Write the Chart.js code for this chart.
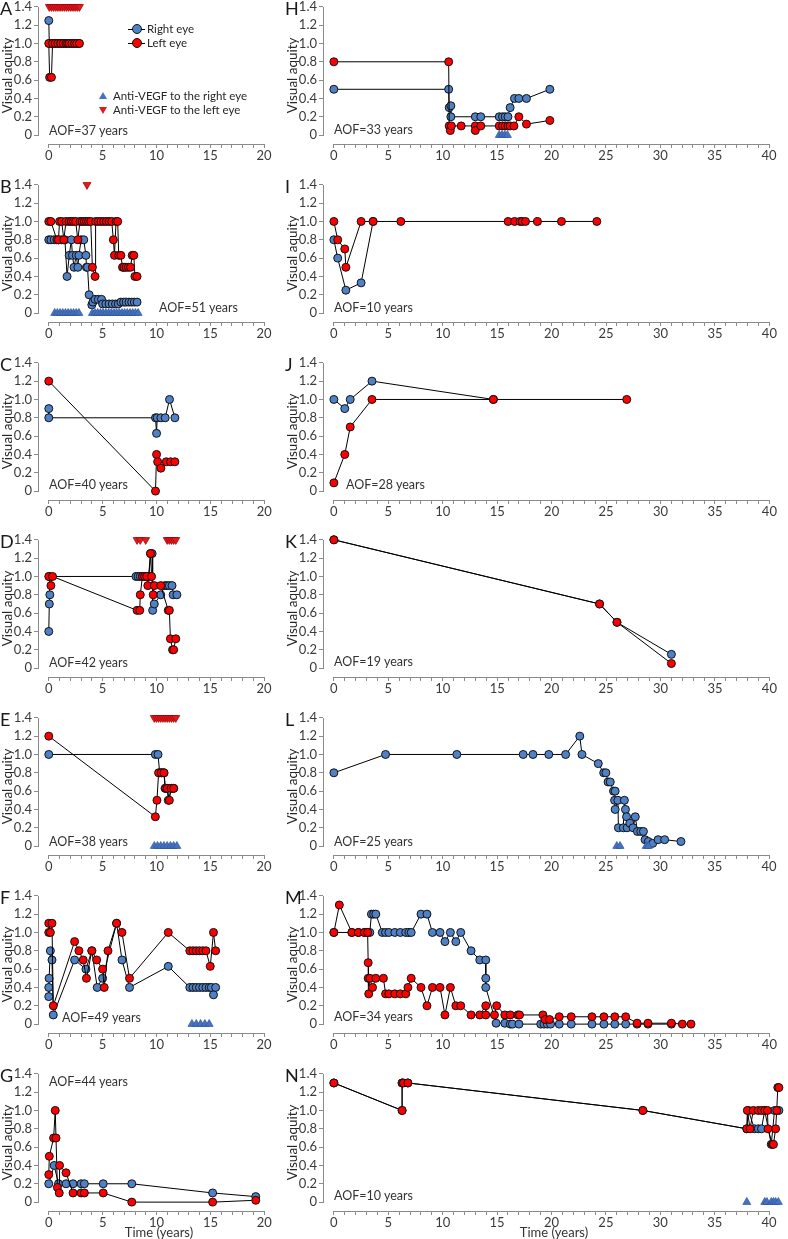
<!DOCTYPE html>
<html>
<head>
<meta charset="utf-8">
<script src="https://cdn.jsdelivr.net/npm/chart.js@4.4.1/dist/chart.umd.min.js"></script>
<style>
  body { margin: 0; background: #fff; }
  #page { position: relative; width: 788px; height: 1239px; overflow: hidden; font-family: Lato, "Noto Sans", sans-serif; color: #262626; }
  canvas { position: absolute; }
  .txt { position: absolute; white-space: nowrap; font-size: 11.5px; line-height: 14px; }
  .aof { position: absolute; white-space: nowrap; font-size: 12.5px; line-height: 14px; color: #333; }
  .letter { position: absolute; font-size: 18px; line-height: 18px; color: #1a1a1a; }
  .xtitle { position: absolute; font-size: 13px; line-height: 14px; transform: translateX(-50%); color: #333; }
  .dot { position: absolute; width: 8px; height: 8px; border-radius: 50%; border: 1px solid #111; }
  .seg { position: absolute; height: 1px; background: #000; }
  .tri-up { position: absolute; width: 0; height: 0; border-left: 4px solid transparent; border-right: 4px solid transparent; border-bottom: 7px solid #4472c4; }
  .tri-down { position: absolute; width: 0; height: 0; border-left: 4px solid transparent; border-right: 4px solid transparent; border-top: 7px solid #e31a1c; }
</style>
</head>
<body>
<div id="page"></div>
<script>
// axis labels
const xLabelsLeft = [0, 5, 10, 15, 20];
const xLabelsRight = [0, 5, 10, 15, 20, 25, 30, 35, 40];
const yTicks = [0, 0.2, 0.4, 0.6, 0.8, 1.0, 1.2, 1.4];

// [time (years), visual acuity] per eye, anti-VEGF injection times
const aRight = [[0,1.25],[0.05,1.0],[0.3,1.0],[0.55,1.0],[0.8,1.0],[1.05,1.0],[1.3,1.0],[1.55,1.0],[1.8,1.0],[2.05,1.0],[2.3,1.0],[2.55,1.0],[2.8,1.0]];
const aLeft = [[0,1.0],[0.08,0.63],[0.25,0.63],[0.35,1.0],[0.6,1.0],[0.85,1.0],[1.1,1.0],[1.35,1.0],[1.6,1.0],[1.75,1.0],[1.9,1.0],[2.15,1.0],[2.4,1.0],[2.6,1.0],[2.85,1.0]];
const aVegfLeft = [0.05,0.25,0.45,0.65,0.85,1.05,1.25,1.45,1.65,1.85,2.05,2.25,2.45,2.65,2.85];

const bRight = [[0,0.8],[0.2,0.8],[0.5,0.8],[0.9,0.8],[1.2,0.8],[1.5,0.8],[1.7,0.4],[1.9,0.63],[2.1,0.8],[2.2,0.63],[2.35,0.5],[2.55,0.63],[2.7,0.5],[2.8,0.63],[3.0,0.8],[3.25,0.8],[3.45,0.63],[3.5,0.5],[3.6,0.5],[3.75,0.2],[4.0,0.09],[4.1,0.12],[4.3,0.15],[4.6,0.15],[4.9,0.15],[5.0,0.1],[5.3,0.1],[5.6,0.1],[5.9,0.1],[6.2,0.1],[6.45,0.1],[6.7,0.12],[6.95,0.12],[7.2,0.12],[7.45,0.12],[7.7,0.12],[7.95,0.12],[8.2,0.12]];
const bLeft = [[0,1.0],[0.2,1.0],[0.75,0.8],[0.9,0.8],[1.0,1.0],[1.2,1.0],[1.4,0.8],[1.6,1.0],[1.9,1.0],[2.1,1.0],[2.3,1.0],[2.5,1.0],[2.7,0.8],[2.9,1.0],[3.1,1.0],[3.3,1.0],[3.5,1.0],[3.7,1.0],[3.9,1.0],[4.05,0.5],[4.3,0.4],[4.35,1.0],[4.6,1.0],[4.85,1.0],[5.1,1.0],[5.35,1.0],[5.6,1.0],[5.85,1.0],[6.0,0.8],[6.1,0.63],[6.25,1.0],[6.4,1.0],[6.5,0.63],[6.7,0.63],[6.85,0.5],[7.0,0.5],[7.2,0.5],[7.4,0.5],[7.6,0.5],[7.75,0.63],[7.9,0.63],[8.0,0.4],[8.2,0.4]];
const bVegfRight = [0.55,0.8,1.05,1.3,1.55,1.8,2.05,2.3,2.55,2.8,4.05,4.3,4.55,4.8,5.05,5.3,5.55,5.8,6.05,6.3,6.55,6.8,7.05,7.3,7.55,7.8,8.05,8.3];
const bVegfLeft = [3.55];

const cRight = [[0,0.9],[0,0.8],[9.9,0.8],[10.0,0.63],[10.05,0.8],[10.4,0.8],[10.8,0.8],[11.2,1.0],[11.7,0.8]];
const cLeft = [[0,1.2],[9.9,0],[10.0,0.4],[10.1,0.32],[10.4,0.25],[10.9,0.32],[11.3,0.32],[11.7,0.32]];

const dRight = [[0,0.4],[0.05,0.7],[0.1,0.8],[0.05,1.0],[8.1,1.0],[8.3,1.0],[8.5,1.0],[8.7,1.0],[8.9,1.0],[9.1,1.0],[9.3,1.0],[9.45,1.25],[9.6,1.25],[9.65,0.63],[9.8,0.7],[10.4,0.8],[10.8,0.9],[11.0,0.9],[11.2,0.9],[11.45,0.9],[11.55,0.8],[11.9,0.8]];
const dLeft = [[0,1.0],[0.2,0.9],[0.35,1.0],[8.2,0.63],[8.45,0.63],[8.5,0.8],[8.7,1.0],[8.9,1.0],[9.1,1.0],[9.2,0.9],[9.45,1.25],[9.55,1.0],[9.7,0.8],[9.8,0.9],[10.4,0.9],[11.1,0.63],[11.2,0.63],[11.3,0.32],[11.5,0.2],[11.6,0.2],[11.8,0.32]];
const dVegfLeft = [8.2,8.5,9.0,11.0,11.2,11.4,11.6,11.8];

const eRight = [[0,1.0],[9.9,1.0],[10.15,1.0],[10.3,0.8],[10.5,0.8],[10.7,0.8],[10.8,0.63],[11.0,0.63],[11.1,0.5],[11.4,0.63],[11.6,0.63]];
const eLeft = [[0,1.2],[9.9,0.32],[10.05,0.5],[10.2,0.8],[10.45,0.8],[10.7,0.8],[10.85,0.63],[11.0,0.63],[11.2,0.5],[11.35,0.63],[11.6,0.63]];
const eVegfRight = [9.8,10.1,10.4,10.7,11.0,11.3,11.6,11.9];
const eVegfLeft = [9.8,10.0,10.2,10.4,10.6,10.8,11.0,11.2,11.4,11.6,11.8];

const fRight = [[0,0.4],[0,0.3],[0.03,0.5],[0.15,0.8],[0.3,0.7],[0.42,0.1],[2.4,0.7],[3.45,0.6],[4.0,0.8],[4.5,0.4],[5.0,0.5],[6.3,1.1],[6.8,0.7],[7.5,0.4],[11.1,0.63],[13.1,0.4],[13.4,0.4],[13.7,0.4],[14.0,0.4],[14.3,0.4],[14.6,0.4],[14.9,0.4],[15.1,0.4],[15.3,0.32],[15.5,0.4]];
const fLeft = [[0,1.0],[0,1.1],[0.15,1.0],[0.3,1.1],[0.42,0.2],[2.4,0.9],[2.8,0.8],[3.2,0.7],[3.5,0.5],[4.0,0.8],[4.45,0.7],[5.0,0.6],[5.15,0.4],[5.5,0.8],[6.3,1.1],[6.8,1.0],[7.5,0.5],[11.1,1.0],[13.1,0.8],[13.4,0.8],[13.7,0.8],[14.0,0.8],[14.3,0.8],[14.6,0.8],[15.0,0.63],[15.3,1.0],[15.5,0.8]];
const fVegfRight = [13.3,13.7,14.1,14.5,14.9];

const gRight = [[0,0.2],[0.5,0.4],[0.9,0.2],[1.6,0.2],[2.25,0.2],[3.0,0.2],[3.3,0.2],[5.05,0.2],[7.7,0.2],[15.2,0.1],[19.2,0.06]];
const gLeft = [[0,0.3],[0.05,0.5],[0.45,0.7],[0.6,1.0],[0.67,0.7],[0.8,0.16],[0.97,0.1],[1.0,0.4],[1.6,0.32],[2.25,0.1],[3.0,0.1],[3.3,0.1],[5.05,0.1],[7.7,0.0],[15.2,0.0],[19.2,0.02]];

const hRight = [[0,0.5],[10.55,0.5],[10.6,0.3],[10.75,0.32],[10.75,0.2],[13.0,0.2],[13.5,0.2],[15.2,0.2],[15.5,0.2],[15.75,0.2],[16.0,0.2],[16.2,0.3],[16.6,0.4],[17.0,0.4],[17.7,0.4],[19.85,0.5]];
const hLeft = [[0,0.8],[10.55,0.8],[10.6,0.1],[10.7,0.05],[10.8,0.1],[11.7,0.1],[13.0,0.1],[13.0,0.05],[13.5,0.1],[15.2,0.1],[15.5,0.1],[15.75,0.1],[16.0,0.1],[16.2,0.1],[16.55,0.1],[17.0,0.2],[17.7,0.12],[19.85,0.16]];
const hVegfRight = [15.2,15.45,15.7,15.95];

const iRight = [[0,0.8],[0.35,0.6],[1.1,0.25],[2.5,0.33],[3.6,1.0]];
const iLeft = [[0,1.0],[0.35,0.8],[1.0,0.7],[1.1,0.5],[2.5,1.0],[3.6,1.0],[6.15,1.0],[16.0,1.0],[16.6,1.0],[17.1,1.0],[17.3,1.0],[17.6,1.0],[18.7,1.0],[20.9,1.0],[24.15,1.0]];

const jRight = [[0,1.0],[1.0,0.9],[1.5,1.0],[3.5,1.2],[14.65,1.0]];
const jLeft = [[0,0.09],[1.0,0.4],[1.5,0.7],[3.5,1.0],[14.65,1.0],[26.9,1.0]];

const kRight = [[0,1.4],[24.4,0.7],[26.0,0.5],[31.0,0.15]];
const kLeft = [[0,1.4],[24.4,0.7],[26.0,0.5],[31.0,0.05]];

const lRight = [[0,0.8],[4.75,1.0],[11.3,1.0],[17.4,1.0],[18.3,1.0],[19.75,1.0],[21.3,1.0],[22.6,1.2],[22.8,1.0],[24.3,0.9],[24.8,0.8],[25.0,0.8],[25.2,0.7],[25.4,0.7],[25.7,0.6],[25.85,0.6],[25.8,0.5],[25.85,0.4],[26.1,0.5],[26.15,0.2],[26.6,0.2],[26.7,0.5],[26.8,0.4],[26.9,0.32],[26.95,0.2],[27.2,0.25],[27.5,0.2],[27.7,0.32],[27.9,0.16],[28.2,0.16],[28.45,0.16],[28.6,0.07],[28.9,0.05],[29.3,0.03],[29.8,0.07],[30.4,0.07],[31.9,0.05]];
const lVegfRight = [26.0,26.3,28.7,28.9];

const mRight = [[0,1.0],[1.65,1.0],[2.25,1.0],[2.8,1.0],[3.1,1.0],[3.3,1.0],[3.45,1.2],[3.65,1.2],[3.85,1.2],[4.45,1.0],[4.75,1.0],[5.05,1.0],[5.6,1.0],[6.1,1.0],[6.6,1.0],[6.9,1.0],[7.1,1.0],[8.0,1.2],[8.55,1.2],[9.05,1.0],[9.75,1.0],[10.2,0.9],[10.7,1.0],[11.2,0.9],[11.65,1.0],[12.6,0.8],[13.4,0.7],[13.95,0.7],[13.95,0.5],[13.95,0.4],[14.9,0.01],[15.7,0.01],[16.2,0.0],[16.4,0.0],[17.0,0.0],[19.0,0.0],[19.3,0.0],[19.6,0.0],[19.9,0.0],[20.7,0.0],[21.8,0.0],[23.7,0.0],[24.8,0.0],[25.8,0.0],[26.8,0.0],[27.85,0.0],[28.85,0.0],[31.0,0.0]];
const mLeft = [[0,1.0],[0.5,1.3],[1.65,1.0],[2.25,1.0],[2.8,1.0],[3.1,1.0],[3.15,0.67],[3.15,0.5],[3.2,0.33],[3.3,0.5],[3.55,0.4],[3.85,0.5],[4.55,0.5],[4.75,0.33],[5.05,0.33],[5.6,0.33],[6.1,0.33],[6.6,0.33],[6.8,0.4],[7.1,0.5],[8.0,0.4],[8.55,0.2],[9.05,0.4],[9.75,0.4],[10.2,0.1],[10.7,0.4],[11.2,0.2],[11.65,0.2],[12.6,0.1],[13.4,0.1],[13.95,0.2],[13.95,0.1],[14.75,0.1],[14.95,0.2],[15.7,0.1],[16.2,0.1],[16.9,0.1],[17.05,0.1],[19.2,0.1],[19.4,0.05],[19.8,0.05],[20.7,0.08],[21.8,0.08],[23.7,0.08],[24.8,0.08],[25.8,0.08],[26.8,0.08],[27.85,0.01],[28.85,0.01],[31.0,0.01],[32.0,0.0],[32.8,0.0]];

const nRight = [[0,1.3],[6.27,1.0],[6.27,1.3],[6.8,1.3],[28.4,1.0],[37.95,0.8],[38.1,1.0],[38.65,0.8],[39.0,0.8],[39.3,0.8],[39.6,1.0],[40.2,0.63],[40.5,1.0],[40.9,1.0]];
const nLeft = [[0,1.3],[6.27,1.0],[6.27,1.3],[6.4,1.3],[6.8,1.3],[28.4,1.0],[37.95,0.8],[38.0,1.0],[38.25,0.8],[38.55,1.0],[39.0,1.0],[39.3,1.0],[39.6,1.0],[39.85,1.0],[39.9,0.8],[40.3,0.63],[40.4,0.63],[40.6,0.8],[40.7,1.0],[40.8,1.25],[40.9,1.25]];
const nVegfRight = [37.95,39.6,39.8,40.2,40.4,40.6,40.85];

const BLUE = '#4f81c7';
const RED = '#ff0000';
const AXIS = '#8a8a8a';
const TEXT = '#3a3a3a';
const FONT = 'Lato, "Noto Sans", sans-serif';

const rowTop = [5, 183, 361, 538, 716, 894, 1072];
const colLeft = [0, 285];

const panels = [
  { id: 'A', col: 0, row: 0, right: aRight, left: aLeft, vr: [], vl: aVegfLeft, aof: 'AOF=37 years', ax: 49, ay: 126 },
  { id: 'B', col: 0, row: 1, right: bRight, left: bLeft, vr: bVegfRight, vl: bVegfLeft, aof: 'AOF=51 years', ax: 159, ay: 125 },
  { id: 'C', col: 0, row: 2, right: cRight, left: cLeft, vr: [], vl: [], aof: 'AOF=40 years', ax: 49, ay: 124 },
  { id: 'D', col: 0, row: 3, right: dRight, left: dLeft, vr: [], vl: dVegfLeft, aof: 'AOF=42 years', ax: 49, ay: 125 },
  { id: 'E', col: 0, row: 4, right: eRight, left: eLeft, vr: eVegfRight, vl: eVegfLeft, aof: 'AOF=38 years', ax: 49, ay: 126 },
  { id: 'F', col: 0, row: 5, right: fRight, left: fLeft, vr: fVegfRight, vl: [], aof: 'AOF=49 years', ax: 62, ay: 124 },
  { id: 'G', col: 0, row: 6, right: gRight, left: gLeft, vr: [], vl: [], aof: 'AOF=44 years', ax: 49, ay: 10 },
  { id: 'H', col: 1, row: 0, right: hRight, left: hLeft, vr: hVegfRight, vl: [], aof: 'AOF=33 years', ax: 49, ay: 125 },
  { id: 'I', col: 1, row: 1, right: iRight, left: iLeft, vr: [], vl: [], aof: 'AOF=10 years', ax: 49, ay: 125 },
  { id: 'J', col: 1, row: 2, right: jRight, left: jLeft, vr: [], vl: [], aof: 'AOF=28 years', ax: 61, ay: 124 },
  { id: 'K', col: 1, row: 3, right: kRight, left: kLeft, vr: [], vl: [], aof: 'AOF=19 years', ax: 49, ay: 124 },
  { id: 'L', col: 1, row: 4, right: lRight, left: [], vr: lVegfRight, vl: [], aof: 'AOF=25 years', ax: 49, ay: 126 },
  { id: 'M', col: 1, row: 5, right: mRight, left: mLeft, vr: [], vl: [], aof: 'AOF=34 years', ax: 49, ay: 123 },
  { id: 'N', col: 1, row: 6, right: nRight, left: nLeft, vr: nVegfRight, vl: [], aof: 'AOF=10 years', ax: 49, ay: 124 }
];

const page = document.getElementById('page');

function addHtml(cls, text, x, y, extra) {
  const d = document.createElement('div');
  d.className = cls;
  if (text) d.textContent = text;
  d.style.left = x + 'px';
  d.style.top = y + 'px';
  if (extra) Object.assign(d.style, extra);
  page.appendChild(d);
  return d;
}

// axis lines only span the labelled range, like the original
const axisLines = {
  id: 'axisLines',
  beforeDatasetsDraw(chart, args, opts) {
    const { ctx, chartArea, scales: { x, y } } = chart;
    const yb = Math.round(chartArea.bottom) + 0.5;
    const xl = Math.round(chartArea.left) + 0.5;
    ctx.save();
    ctx.strokeStyle = AXIS;
    ctx.lineWidth = 1;
    ctx.beginPath();
    ctx.moveTo(Math.round(x.getPixelForValue(0)), yb);
    ctx.lineTo(Math.round(x.getPixelForValue(opts.xEnd)) + 1, yb);
    ctx.moveTo(xl, Math.round(y.getPixelForValue(0)) + 1);
    ctx.lineTo(xl, Math.round(y.getPixelForValue(1.4)));
    ctx.stroke();
    ctx.restore();
  }
};

function eyeSet(points, color) {
  return {
    data: points.map(p => ({ x: p[0], y: p[1] })),
    showLine: true,
    borderColor: '#000',
    borderWidth: 1,
    pointRadius: 4,
    pointHoverRadius: 4,
    pointBackgroundColor: color,
    pointBorderColor: '#111',
    pointBorderWidth: 1,
    clip: false
  };
}

function vegfSet(times, level, fill, edge, rot) {
  return {
    data: times.map(t => ({ x: t, y: level })),
    showLine: false,
    pointStyle: 'triangle',
    pointRotation: rot,
    pointRadius: 4.6,
    pointHoverRadius: 4.6,
    pointBackgroundColor: fill,
    pointBorderColor: edge,
    pointBorderWidth: 0.7,
    clip: false
  };
}

panels.forEach(p => {
  const wide = p.col === 1;
  const xEnd = wide ? 40 : 20;
  // scale runs a little past the last label so late visits stay drawn
  const xMax = wide ? 41.25 : 21.45;
  const xLabels = wide ? xLabelsRight : xLabelsLeft;
  const xMinor = [];
  for (let i = 0; i <= xEnd; i++) xMinor.push(i);

  const T = rowTop[p.row];
  const X = colLeft[p.col];
  const W = wide ? 503 : 285;

  const canvas = document.createElement('canvas');
  canvas.width = W;
  canvas.height = 171;
  canvas.style.left = X + 'px';
  canvas.style.top = (T - 8) + 'px';
  page.appendChild(canvas);

  // first dataset is painted last, so injections sit on top, then the left eye
  new Chart(canvas, {
    type: 'scatter',
    data: {
      datasets: [
        vegfSet(p.vr, 0, '#4472c4', '#2f5597', 0),
        vegfSet(p.vl, 1.4, '#e31a1c', '#9c0006', 180),
        eyeSet(p.left, RED),
        eyeSet(p.right, BLUE)
      ]
    },
    options: {
      responsive: false,
      animation: false,
      devicePixelRatio: 1,
      layout: { padding: { top: 8, right: 0, left: 0, bottom: 0 } },
      plugins: { legend: { display: false }, tooltip: { enabled: false }, axisLines: { xEnd } },
      scales: {
        x: {
          type: 'linear',
          min: -1,
          max: xMax,
          afterBuildTicks: s => { s.ticks = xMinor.map(v => ({ value: v })); },
          afterFit: s => { s.height = 24; },
          ticks: {
            autoSkip: false, maxRotation: 0, padding: 0, color: TEXT,
            font: { family: FONT, size: 13 },
            callback: v => (xLabels.includes(v) ? String(v) : '')
          },
          grid: { drawOnChartArea: false, drawTicks: true, tickLength: 4, color: AXIS, lineWidth: 1 },
          border: { display: false }
        },
        y: {
          type: 'linear',
          min: -0.097,
          max: 1.4,
          afterBuildTicks: s => { s.ticks = yTicks.map(v => ({ value: v })); },
          afterFit: s => { s.width = 38; },
          ticks: {
            padding: 2, color: TEXT,
            font: { family: FONT, size: 13 },
            callback: v => (v === 0 ? '0' : v.toFixed(1))
          },
          grid: { drawOnChartArea: false, drawTicks: true, tickLength: 4, color: AXIS, lineWidth: 1 },
          border: { display: false },
          title: { display: true, text: 'Visual aquity', padding: 0, color: '#262626', font: { family: FONT, size: 13.5 } }
        }
      }
    },
    plugins: [axisLines]
  });

  addHtml('letter', p.id, X, T - 6);
  addHtml('aof', p.aof, X + p.ax, T + p.ay - 7);
  if (p.row === 6) addHtml('xtitle', 'Time (years)', X + 49 + (wide ? 220 : 110), 1225);
});

// legend inside panel A
addHtml('seg', '', 128, 29, { width: '17px' });
addHtml('dot', '', 132, 24, { background: BLUE });
addHtml('txt', 'Right eye', 147, 22);
addHtml('seg', '', 128, 43, { width: '17px' });
addHtml('dot', '', 132, 38, { background: RED });
addHtml('txt', 'Left eye', 147, 36);
addHtml('tri-up', '', 99, 92);
addHtml('txt', 'Anti-VEGF to the right eye', 113, 89);
addHtml('tri-down', '', 99, 107);
addHtml('txt', 'Anti-VEGF to the left eye', 113, 103);
</script>
</body>
</html>
